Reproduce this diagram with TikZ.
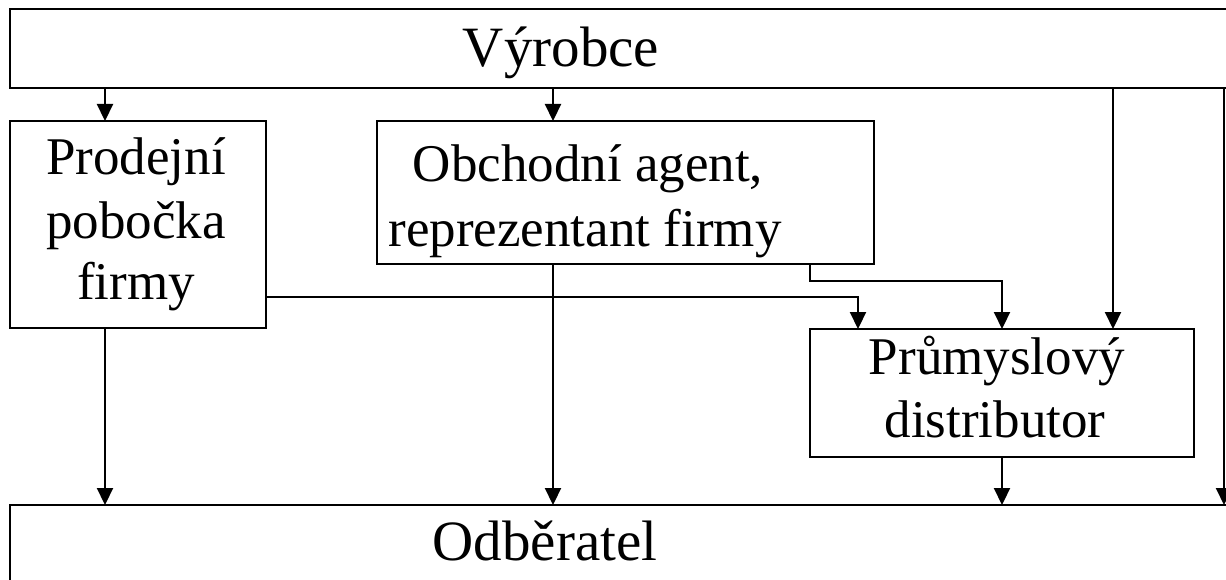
\documentclass[tikz,border=0pt]{standalone}
\usepackage{fontspec}
\setmainfont{Liberation Serif}
\usetikzlibrary{arrows.meta}
\tikzset{
  box/.style={draw=black, line width=2.8pt, inner sep=0pt, outer sep=0pt, rectangle},
  lbl/.style={inner sep=0pt, anchor=base, font=\fontsize{53}{62}\selectfont},
  biglbl/.style={inner sep=0pt, anchor=base, font=\fontsize{57}{66}\selectfont},
  arr/.style={draw=black, line width=2.2pt, -{Triangle[width=16pt,length=17pt]}}
}
\begin{document}
\begin{tikzpicture}[x=1pt,y=-1pt]
\useasboundingbox (0,0) rectangle (1226,580);
\fill[white] (0,0) rectangle (1226,580);
\clip (0,0) rectangle (1226,580);
% boxes
\node[box, minimum width=1230pt, minimum height=79pt] (vyr) at (625,48.5) {};
\node[box, minimum width=1230pt, minimum height=135pt] (odb) at (625,572.5) {};
\node[box, minimum width=256pt, minimum height=207pt] (prod) at (138,224.5) {};
\node[box, minimum width=497pt, minimum height=143pt] (agent) at (625.5,192.5) {};
\node[box, minimum width=384pt, minimum height=128pt] (dist) at (1002,393) {};
% texts
\node[biglbl] (tvyr) at (561,67) {Výrobce};
\node[biglbl] (todb) at (545,560) {Odběratel};
\node[lbl] (tprod1) at (136,175) {Prodejní};
\node[lbl] (tprod2) at (136,238) {pobočka};
\node[lbl] (tprod3) at (136,299) {firmy};
\node[lbl] (tagent1) at (588,182) {Obchodní agent,};
\node[lbl] (tagent2) at (585,247) {reprezentant firmy};
\node[lbl] (tdist1) at (997,374) {Průmyslový};
\node[lbl] (tdist2) at (995,437) {distributor};
% helper coordinates for connector columns
\coordinate (cA) at (105,0);
\coordinate (cB) at (553,0);
\coordinate (cC) at (858,297);
\coordinate (cG) at (810,281);
\coordinate (cD) at (1002,281);
\coordinate (cE) at (1113,0);
\coordinate (cF) at (1224,0);
% connectors
\draw[arr] (vyr.south -| cA) -- (prod.north -| cA);
\draw[arr] (vyr.south -| cB) -- (agent.north -| cB);
\draw[arr] (vyr.south -| cE) -- (dist.north -| cE);
\draw[arr] (vyr.south -| cF) -- (odb.north -| cF);
\draw[arr] (prod.east |- cC) -| (dist.north -| cC);
\draw[arr] (agent.south -| cG) |- (cD) -- (dist.north -| cD);
\draw[arr] (prod.south -| cA) -- (odb.north -| cA);
\draw[arr] (agent.south -| cB) -- (odb.north -| cB);
\draw[arr] (dist.south -| cD) -- (odb.north -| cD);
\end{tikzpicture}
\end{document}
